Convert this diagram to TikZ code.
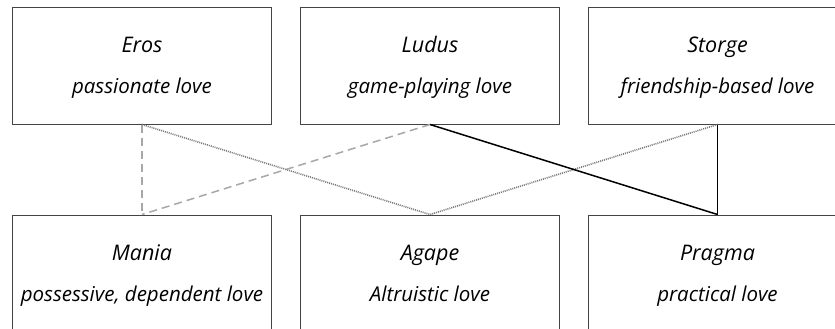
\documentclass[tikz,border=0pt]{standalone}
\usepackage{fontspec}
\setmainfont{Open Sans}
\usetikzlibrary{calc}
\definecolor{boxline}{HTML}{444444}
\definecolor{dotgray}{HTML}{7A7A7A}
\definecolor{dashgray}{HTML}{A8A8A8}
\tikzset{
  lovebox/.style={draw=boxline, line width=1pt, minimum width=259pt, minimum height=116pt, inner sep=0pt},
  titletext/.style={anchor=base, inner sep=0pt, font=\fontsize{21.5}{24}\selectfont\itshape},
  subtext/.style={anchor=base, inner sep=0pt, font=\fontsize{20.5}{23}\selectfont\itshape},
  dotlink/.style={draw=dotgray, line width=1.6pt, dash pattern=on 1pt off 1pt},
  dashlink/.style={draw=dashgray, line width=1.5pt, dash pattern=on 8pt off 5pt},
  solidlink/.style={draw=black, line width=1.5pt}
}
\begin{document}
\begin{tikzpicture}[x=1pt,y=-1pt]
\clip (0,0) rectangle (835,329);
\fill[white] (0,0) rectangle (835,329);
% boxes
\node[lovebox] (eros)   at (142,66) {};
\node[lovebox] (ludus)  at (430,66) {};
\node[lovebox] (storge) at (717.5,66) {};
\node[lovebox] (mania)  at (142,273) {};
\node[lovebox] (agape)  at (430,273) {};
\node[lovebox] (pragma) at (717.5,273) {};
% texts
\node[titletext] (erosT)   at ([yshift=-45pt]eros.north) {Eros};
\node[subtext]   (erosS)   at ([yshift=-86pt]eros.north) {passionate love};
\node[titletext] (ludusT)  at ([yshift=-45pt]ludus.north) {Ludus};
\node[subtext]   (ludusS)  at ([yshift=-86pt]ludus.north) {game-playing love};
\node[titletext] (storgeT) at ([yshift=-45pt]storge.north) {Storge};
\node[subtext]   (storgeS) at ([yshift=-86pt]storge.north) {friendship-based love};
\node[titletext] (maniaT)  at ([yshift=-45.5pt]mania.north) {Mania};
\node[subtext]   (maniaS)  at ([yshift=-86.5pt]mania.north) {possessive, dependent love};
\node[titletext] (agapeT)  at ([yshift=-45.5pt]agape.north) {Agape};
\node[subtext]   (agapeS)  at ([yshift=-86.5pt]agape.north) {Altruistic love};
\node[titletext] (pragmaT) at ([yshift=-45.5pt]pragma.north) {Pragma};
\node[subtext]   (pragmaS) at ([yshift=-86.5pt]pragma.north) {practical love};
% links
\draw[dotlink] (eros.south) -- (agape.north);
\draw[dotlink] (storge.south) -- (agape.north);
\draw[dashlink] (eros.south) -- (mania.north);
\draw[dashlink] (ludus.south) -- (mania.north);
\draw[solidlink] (ludus.south) -- (pragma.north);
\draw[solidlink] (storge.south) -- (pragma.north);
\end{tikzpicture}
\end{document}
